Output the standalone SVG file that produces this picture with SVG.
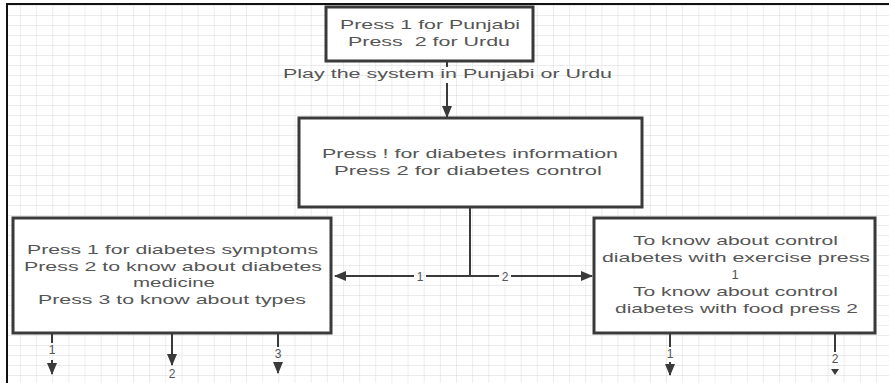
<svg xmlns="http://www.w3.org/2000/svg" width="889" height="383" viewBox="0 0 889 383">
<style>
.box{fill:#ffffff;stroke:#3a3a3a;stroke-width:3}
.t{font-family:"Liberation Sans",Arial,sans-serif;font-size:13px;fill:#555555;text-anchor:middle}
.lbl{font-family:"Liberation Sans",Arial,sans-serif;font-size:12px;fill:#555555;text-anchor:middle}
.c{stroke:#3a3a3a;stroke-width:2;fill:none}
.ah{fill:#3a3a3a}
</style>
<defs>
<pattern id="grid" patternUnits="userSpaceOnUse" x="3.85" y="5" width="16.15" height="10">
<path d="M0 0H16.15M0 0V10" stroke="#dadada" stroke-width="1" fill="none"/>
</pattern>
<marker id="arr" markerUnits="userSpaceOnUse" markerWidth="12" markerHeight="10" refX="11" refY="5" orient="auto">
<path d="M0 0L12 5L0 10Z" fill="#3a3a3a"/>
</marker>
</defs>
<rect x="0" y="0" width="889" height="383" fill="#ffffff"/>
<rect x="7" y="4" width="882" height="379" fill="url(#grid)"/>
<line x1="6" y1="4" x2="889" y2="4" stroke="#111" stroke-width="2"/>
<line x1="7" y1="3" x2="7" y2="383" stroke="#111" stroke-width="2"/>

<g id="connectors">
<line class="c" x1="447" y1="61" x2="447" y2="67"/>
<text class="lbl" x="447.5" y="78" textLength="329" lengthAdjust="spacingAndGlyphs">Play the system in Punjabi or Urdu</text>
<line class="c" x1="447" y1="83" x2="447" y2="117" marker-end="url(#arr)"/>

<line class="c" x1="470" y1="207" x2="470" y2="276"/>
<line class="c" x1="471" y1="276" x2="426" y2="276"/>
<line class="c" x1="414" y1="276" x2="335" y2="276" marker-end="url(#arr)"/>
<text class="lbl" x="420" y="280.5">1</text>
<line class="c" x1="469" y1="276" x2="499" y2="276"/>
<line class="c" x1="511" y1="276" x2="592" y2="276" marker-end="url(#arr)"/>
<text class="lbl" x="505" y="280.5">2</text>

<line class="c" x1="52" y1="333" x2="52" y2="343"/>
<text class="lbl" x="52" y="354">1</text>
<line class="c" x1="52" y1="360" x2="52" y2="374" marker-end="url(#arr)"/>

<line class="c" x1="172" y1="333" x2="172" y2="365" marker-end="url(#arr)"/>
<text class="lbl" x="172" y="378">2</text>

<line class="c" x1="278" y1="333" x2="278" y2="347"/>
<text class="lbl" x="278" y="358">3</text>
<line class="c" x1="278" y1="362" x2="278" y2="373" marker-end="url(#arr)"/>

<line class="c" x1="670" y1="333" x2="670" y2="347"/>
<text class="lbl" x="670" y="358">1</text>
<line class="c" x1="670" y1="362" x2="670" y2="375" marker-end="url(#arr)"/>

<line class="c" x1="835" y1="333" x2="835" y2="352"/>
<text class="lbl" x="835" y="363">2</text>
<path class="ah" d="M831 369L839 369L835 375Z"/>
</g>

<g id="node-language">
<rect class="box" x="326" y="7" width="207" height="54"/>
<text class="t" x="430" y="28.5" textLength="180" lengthAdjust="spacingAndGlyphs">Press 1 for Punjabi</text>
<text class="t" x="429" y="45.5" textLength="162" lengthAdjust="spacingAndGlyphs" xml:space="preserve">Press  2 for Urdu</text>
</g>

<g id="node-menu">
<rect class="box" x="299" y="118" width="343" height="89"/>
<text class="t" x="470" y="158" textLength="296" lengthAdjust="spacingAndGlyphs">Press ! for diabetes information</text>
<text class="t" x="468" y="175" textLength="268" lengthAdjust="spacingAndGlyphs">Press 2 for diabetes control</text>
</g>

<g id="node-information">
<rect class="box" x="13" y="218" width="318" height="115"/>
<text class="t" x="172.5" y="254" textLength="291" lengthAdjust="spacingAndGlyphs">Press 1 for diabetes symptoms</text>
<text class="t" x="173" y="270.7" textLength="298" lengthAdjust="spacingAndGlyphs">Press 2 to know about diabetes</text>
<text class="t" x="174" y="287" textLength="82" lengthAdjust="spacingAndGlyphs">medicine</text>
<text class="t" x="172" y="304" textLength="268" lengthAdjust="spacingAndGlyphs">Press 3 to know about types</text>
</g>

<g id="node-control">
<rect class="box" x="594" y="218" width="281" height="115"/>
<text class="t" x="735.5" y="245" textLength="205" lengthAdjust="spacingAndGlyphs">To know about control</text>
<text class="t" x="736" y="262" textLength="268" lengthAdjust="spacingAndGlyphs">diabetes with exercise press</text>
<text class="t" x="735" y="279">1</text>
<text class="t" x="735.5" y="296" textLength="205" lengthAdjust="spacingAndGlyphs">To know about control</text>
<text class="t" x="736.5" y="313" textLength="243" lengthAdjust="spacingAndGlyphs">diabetes with food press 2</text>
</g>
</svg>
